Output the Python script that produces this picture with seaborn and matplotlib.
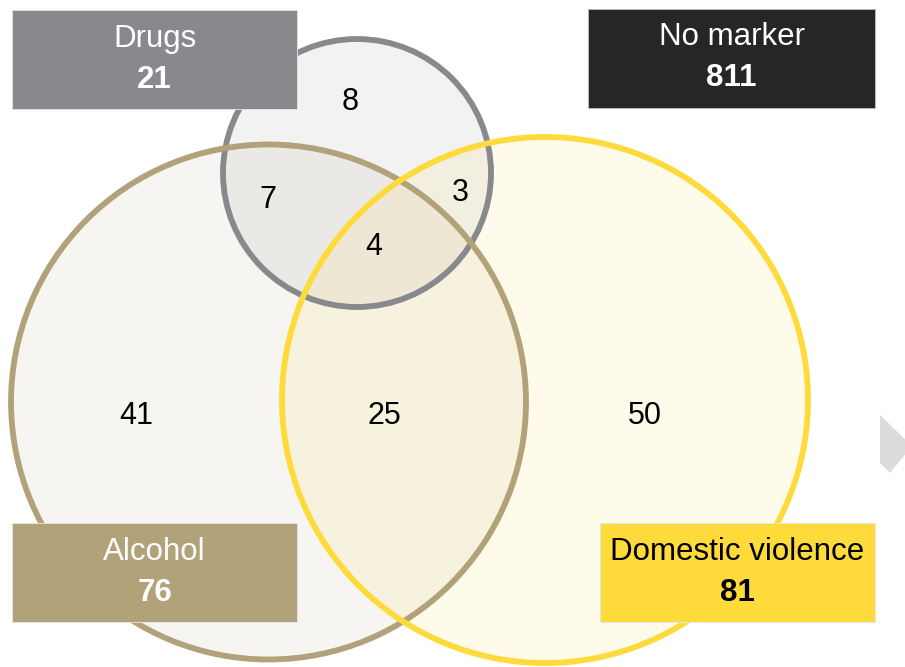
import matplotlib
matplotlib.use("Agg")
import matplotlib.pyplot as plt
from matplotlib.patches import Circle, Rectangle, Polygon
import seaborn as sns

# Sets and their totals
set_names = ["Drugs", "Alcohol", "Domestic violence"]
set_totals = [21, 76, 81]
no_marker_label = "No marker"
no_marker_total = 811

# Region counts: Drugs only, Drugs&Alcohol, Drugs&DV, all three,
# Alcohol only, Alcohol&DV, DV only
region_counts = [8, 7, 3, 4, 41, 25, 50]

# Palette for the three sets and the "no marker" box
set_colors = sns.color_palette(["#88898d", "#b2a27a", "#ffda3b"])
no_marker_color = "#262626"

sns.set_theme(style="white")
plt.rcParams["font.family"] = ["Liberation Sans", "DejaVu Sans"]

fig = plt.figure(figsize=(9.05, 6.67), dpi=100)
ax = fig.add_axes([0, 0, 1, 1])
ax.set_xlim(0, 905)
ax.set_ylim(667, 0)
ax.set_aspect("equal")
ax.axis("off")

# Circle layout (centre x, centre y, radius) in pixel-like units
circle_layout = [(357, 173, 134), (268.5, 402, 257.5), (545, 400, 263)]
for (cx, cy, r), col in zip(circle_layout, set_colors):
    ax.add_patch(Circle((cx, cy), r, facecolor=(*col, 0.10), edgecolor="none", zorder=1))
for (cx, cy, r), col in zip(circle_layout, set_colors):
    ax.add_patch(Circle((cx, cy), r, facecolor="none", edgecolor=col, lw=4.2, zorder=2))

# Region count labels
region_pos = [(350, 102), (268, 200), (460, 193), (374, 247),
              (136, 416), (384, 416), (645, 416)]
for (x, y), n in zip(region_pos, region_counts):
    ax.text(x, y, str(n), ha="center", va="center", fontsize=22, color="black", zorder=5)

# Label boxes: (x0, y0, x1, y1)
box_layout = [(12, 10, 297, 109), (12, 523, 297, 622), (600, 523, 875, 622)]
text_colors = ["white", "white", "black"]
for (x0, y0, x1, y1), col, name, total, tc in zip(box_layout, set_colors, set_names,
                                                  set_totals, text_colors):
    ax.add_patch(Rectangle((x0, y0), x1 - x0, y1 - y0, facecolor=col,
                           edgecolor="#e6e6e6", lw=0.6, zorder=6))
    xc = (x0 + x1) / 2
    ax.text(xc, y0 + 29, name, ha="center", va="center", fontsize=22.5, color=tc, zorder=7)
    ax.text(xc, y0 + 70, str(total), ha="center", va="center", fontsize=22.5,
            fontweight="bold", color=tc, zorder=7)

# "No marker" box
nx0, ny0, nx1, ny1 = 588, 9, 875, 108
ax.add_patch(Rectangle((nx0, ny0), nx1 - nx0, ny1 - ny0, facecolor=no_marker_color,
                       edgecolor="#bdbdbd", lw=0.6, zorder=6))
ax.text((nx0 + nx1) / 2, ny0 + 28, no_marker_label, ha="center", va="center",
        fontsize=22.5, color="white", zorder=7)
ax.text((nx0 + nx1) / 2, ny0 + 69, str(no_marker_total), ha="center", va="center",
        fontsize=22.5, fontweight="bold", color="white", zorder=7)

# Navigation chevron at the right edge
ax.add_patch(Polygon([(880, 415), (912, 446), (890, 473), (880, 463)], closed=True,
                     facecolor="#dcdcdc", edgecolor="none", zorder=3))

fig.savefig("out.png", dpi=100)
